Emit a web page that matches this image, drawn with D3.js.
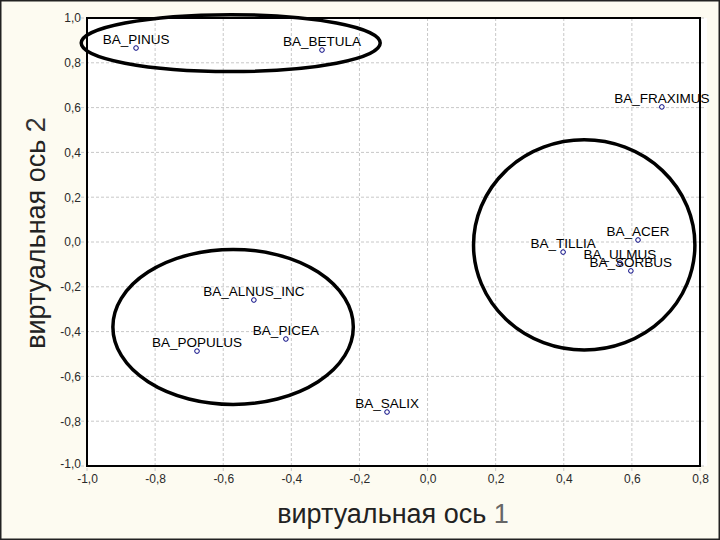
<!DOCTYPE html>
<html><head><meta charset="utf-8">
<script src="https://cdn.jsdelivr.net/npm/d3@7"></script>
<style>body{margin:0;background:#fdfbf1}svg{display:block}</style>
</head><body>
<script>
const names = ["BA_PINUS","BA_BETULA","BA_FRAXIMUS","BA_ACER","BA_TILLIA","BA_ULMUS","BA_SORBUS","BA_ALNUS_INC","BA_PICEA","BA_POPULUS","BA_SALIX"];
const axis1 = [-0.856,-0.310,0.688,0.618,0.398,0.565,0.597,-0.510,-0.416,-0.677,-0.119];
const axis2 = [0.866,0.857,0.603,0.009,-0.045,-0.094,-0.129,-0.259,-0.433,-0.487,-0.759];
const xTicks = [-1.0,-0.8,-0.6,-0.4,-0.2,0.0,0.2,0.4,0.6,0.8];
const yTicks = [-1.0,-0.8,-0.6,-0.4,-0.2,0.0,0.2,0.4,0.6,0.8,1.0];
// group ellipses: centre (axis1, axis2) and radii in axis units
const groupCx = [-0.578, 0.460, -0.571];
const groupCy = [0.888, -0.013, -0.379];
const groupRx = [0.439, 0.325, 0.353];
const groupRy = [0.127, 0.469, 0.346];
const xTitle = "виртуальная ось ";
const yTitle = "виртуальная ось ";
const xNum = "1", yNum = "2";

const W = 720, H = 540;
const svg = d3.select("body").append("svg").attr("width", W).attr("height", H);
svg.append("rect").attr("x",0.75).attr("y",0.75).attr("width",W-1.5).attr("height",H-1.5)
  .attr("fill","#fdfbf1").attr("stroke","#222").attr("stroke-width",1.5);

const L = 87, R = 700, T = 18, B = 466;
const x = d3.scaleLinear().domain([-1, 0.8]).range([L, R]);
const y = d3.scaleLinear().domain([-1, 1]).range([B, T]);
const fmt = v => d3.format(".1f")(v).replace(".", ",").replace("−","-");

svg.append("rect").attr("x",L).attr("y",T).attr("width",R-L+7).attr("height",B-T).attr("fill","#ffffff");

// grid
const grid = svg.append("g").attr("stroke","#c8c8c8").attr("stroke-width",1).attr("stroke-dasharray","3,2");
grid.selectAll(".gx").data(xTicks).join("line")
  .attr("x1", d=>x(d)).attr("x2", d=>x(d)).attr("y1", T).attr("y2", B+6);
grid.selectAll(".gy").data(yTicks).join("line")
  .attr("y1", d=>y(d)).attr("y2", d=>y(d)).attr("x1", L-6).attr("x2", R+6);

// axes labels
const xAxis = d3.axisBottom(x).tickValues(xTicks).tickFormat(fmt).tickSize(0).tickPadding(8);
const gx = svg.append("g").attr("transform",`translate(0,${B})`).call(xAxis);
const yAxis = d3.axisLeft(y).tickValues(yTicks).tickFormat(fmt).tickSize(0).tickPadding(6);
const gy = svg.append("g").attr("transform",`translate(${L},0)`).call(yAxis);
[gx, gy].forEach(g => {
  g.select(".domain").remove();
  g.selectAll("text").attr("font-family","Liberation Sans, Arial, sans-serif")
    .attr("font-size", 12).attr("fill","#2a2a2a").attr("transform", null);
});
gy.selectAll("text").attr("dy","0.32em");
gy.selectAll(".tick").filter(d=>d===-1).select("text").attr("dy","0.1em");

// frame
svg.append("rect").attr("x",L).attr("y",T).attr("width",R-L).attr("height",B-T)
  .attr("fill","none").attr("stroke","#000").attr("stroke-width",2);

// titles
const xt = svg.append("text").attr("x", 393).attr("y", 523).attr("text-anchor","middle")
  .attr("font-family","Liberation Sans, Arial, sans-serif").attr("font-size",27).attr("fill","#222");
xt.append("tspan").text(xTitle);
xt.append("tspan").attr("fill","#666").text(xNum);
const yt = svg.append("text").attr("transform","translate(45,233) rotate(-90)").attr("text-anchor","middle")
  .attr("font-family","Liberation Sans, Arial, sans-serif").attr("font-size",27).attr("fill","#222");
yt.append("tspan").text(yTitle);
yt.append("tspan").attr("fill","#333").text(yNum);

// points
const data = names.map((n,i)=>({n, a:axis1[i], b:axis2[i]}));
svg.append("g").selectAll("circle").data(data).join("circle")
  .attr("cx", d=>x(d.a)).attr("cy", d=>y(d.b)).attr("r", 2.3)
  .attr("fill","#fff").attr("stroke","#000080").attr("stroke-width",1);
svg.append("g").selectAll("text").data(data).join("text")
  .attr("x", d=>x(d.a)).attr("y", d=>y(d.b)-4).attr("text-anchor","middle")
  .attr("font-family","Liberation Sans, Arial, sans-serif").attr("font-size",13.5).attr("fill","#000")
  .text(d=>d.n);

// ellipses
const groups = groupCx.map((c,i)=>({cx:c, cy:groupCy[i], rx:groupRx[i], ry:groupRy[i]}));
svg.append("g").selectAll("ellipse").data(groups).join("ellipse")
  .attr("cx", d=>x(d.cx)).attr("cy", d=>y(d.cy))
  .attr("rx", d=>x(d.cx+d.rx)-x(d.cx)).attr("ry", d=>y(d.cy-d.ry)-y(d.cy))
  .attr("fill","none").attr("stroke","#000").attr("stroke-width",3.5);
</script>
</body></html>
